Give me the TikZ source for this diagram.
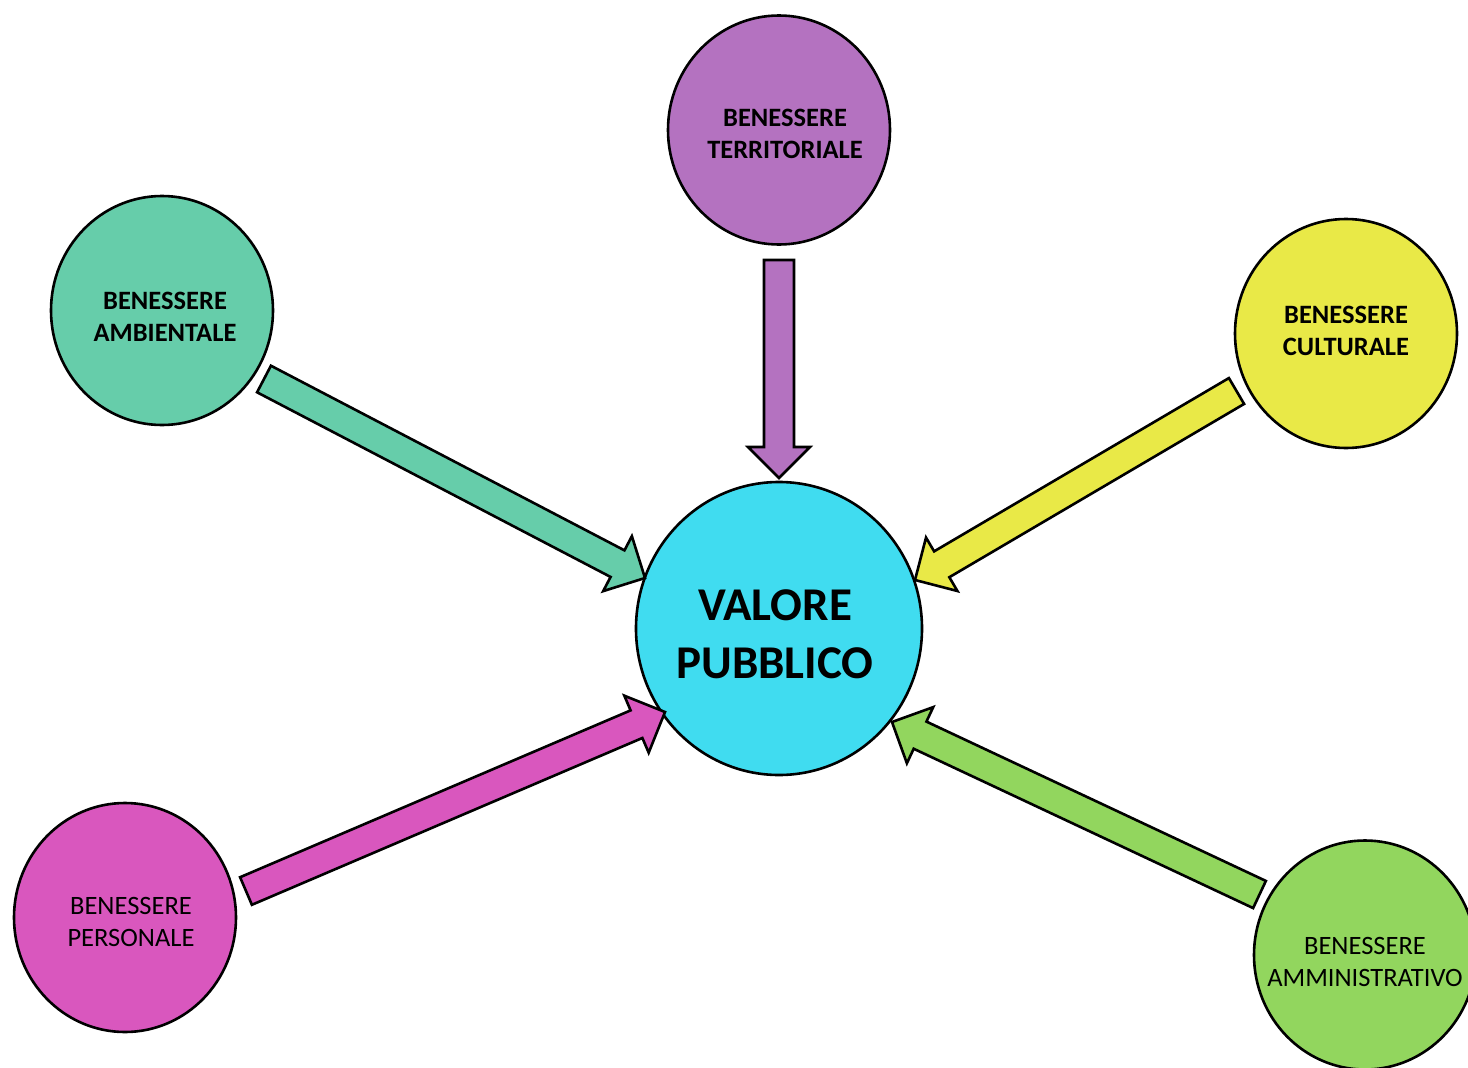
\documentclass[tikz,border=0pt]{standalone}
\usepackage{fontspec}
\setmainfont{Carlito}
\usetikzlibrary{calc,shapes.geometric}
\definecolor{cterr}{HTML}{B472C0}
\definecolor{camb}{HTML}{66CDAA}
\definecolor{ccult}{HTML}{E9E947}
\definecolor{cval}{HTML}{40DCF0}
\definecolor{cpers}{HTML}{D957BE}
\definecolor{cammi}{HTML}{92D65E}
\newcommand\blockarrow[3]{%
  \path[draw=black, fill=#1, line width=2.6pt, line join=miter]
    let \p1=($(#3)-(#2)$), \n1={atan2(\y1,\x1)} in
    ($(#2)+(\n1+90:15pt)$) --
    ($(#3)+(\n1+180:31pt)+(\n1+90:15pt)$) --
    ($(#3)+(\n1+180:31pt)+(\n1+90:31pt)$) --
    (#3) --
    ($(#3)+(\n1+180:31pt)+(\n1-90:31pt)$) --
    ($(#3)+(\n1+180:31pt)+(\n1-90:15pt)$) --
    ($(#2)+(\n1-90:15pt)$) -- cycle;}
\tikzset{
  circ/.style={ellipse, draw=black, line width=2.6pt, minimum width=222pt, minimum height=229pt, inner sep=0pt},
  lbl/.style={align=center, text=black, inner sep=0pt},
  smallb/.style={font=\fontsize{26.5}{32.5}\selectfont\bfseries},
  smallr/.style={font=\fontsize{26.5}{32.5}\selectfont},
}
\begin{document}
\begin{tikzpicture}[x=1pt,y=-1pt]
\useasboundingbox (0,0) rectangle (1468,1068);
\clip (0,0) rectangle (1468,1068);
% circles
\node[circ, fill=cterr] (terr) at (779,130) {};
\node[circ, fill=camb] (amb) at (162,310.5) {};
\node[circ, fill=ccult] (cult) at (1346,333.5) {};
\node[circ, fill=cpers] (pers) at (125,917.5) {};
\node[circ, fill=cammi] (ammi) at (1365,955) {};
\node[circ, fill=cval, minimum width=286pt, minimum height=293pt] (val) at (779,628.5) {};
% labels
\node[lbl, smallb] (terrL) at (785,134) {BENESSERE\\TERRITORIALE};
\node[lbl, smallb] (ambL) at (165,317) {BENESSERE\\AMBIENTALE};
\node[lbl, smallb] (cultL) at (1346,331) {BENESSERE\\CULTURALE};
\node[lbl, smallr] (persL) at (131,922) {BENESSERE\\PERSONALE};
\node[lbl, smallr] (ammiL) at (1365,962) {BENESSERE\\AMMINISTRATIVO};
\node[lbl, font=\fontsize{47}{58}\selectfont\bfseries] (valL) at (775,634) {VALORE\\PUBBLICO};
% arrow ends
\coordinate (terrT) at (779,260);  \coordinate (terrH) at (779,478);
\coordinate (ambT) at (264,379);   \coordinate (ambH) at (645,578);
\coordinate (cultT) at (1236.5,391); \coordinate (cultH) at (915,580);
\coordinate (persT) at (246,891);  \coordinate (persH) at (665,712);
\coordinate (ammiT) at (1259.5,894.5); \coordinate (ammiH) at (892,722);
\blockarrow{cterr}{terrT}{terrH}
\blockarrow{camb}{ambT}{ambH}
\blockarrow{ccult}{cultT}{cultH}
\blockarrow{cpers}{persT}{persH}
\blockarrow{cammi}{ammiT}{ammiH}
\end{tikzpicture}
\end{document}
